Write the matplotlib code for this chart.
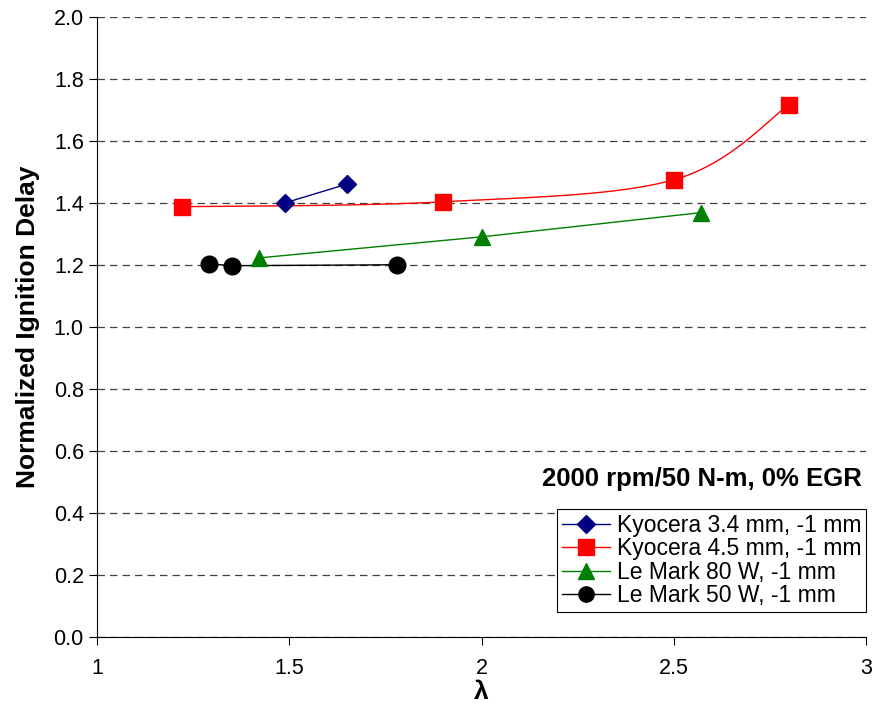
import numpy as np
import matplotlib
matplotlib.use("Agg")
import matplotlib.pyplot as plt

plt.rcParams['font.family'] = ['Liberation Sans', 'DejaVu Sans']

# Data
k34_x = [1.49, 1.65]
k34_y = [1.40, 1.46]
k45_x = [1.22, 1.90, 2.50, 2.80]
k45_y = [1.387, 1.403, 1.474, 1.716]
lm80_x = [1.42, 2.00, 2.57]
lm80_y = [1.222, 1.290, 1.368]
lm50_x = [1.29, 1.35, 1.78]
lm50_y = [1.203, 1.197, 1.200]

labels = ["Kyocera 3.4 mm, -1 mm", "Kyocera 4.5 mm, -1 mm",
          "Le Mark 80 W, -1 mm", "Le Mark 50 W, -1 mm"]


def smooth(x, y, n=40):
    """Excel-style smoothed line: cubic Bezier with Catmull-Rom control points."""
    x = np.asarray(x, float); y = np.asarray(y, float)
    px, py = [], []
    m = len(x)
    for i in range(m - 1):
        x0, y0 = (x[i - 1], y[i - 1]) if i > 0 else (x[i], y[i])
        x3, y3 = (x[i + 2], y[i + 2]) if i + 2 < m else (x[i + 1], y[i + 1])
        c1x = x[i] + (x[i + 1] - x0) / 6
        c1y = y[i] + (y[i + 1] - y0) / 6
        c2x = x[i + 1] - (x3 - x[i]) / 6
        c2y = y[i + 1] - (y3 - y[i]) / 6
        t = np.linspace(0, 1, n)
        bx = (1-t)**3*x[i] + 3*(1-t)**2*t*c1x + 3*(1-t)*t**2*c2x + t**3*x[i+1]
        by = (1-t)**3*y[i] + 3*(1-t)**2*t*c1y + 3*(1-t)*t**2*c2y + t**3*y[i+1]
        px.extend(bx); py.extend(by)
    return np.array(px), np.array(py)


fig = plt.figure(figsize=(8.74, 7.23), dpi=100)
ax = fig.add_axes([0.111, 0.119, 0.880, 0.858])

ax.plot(k34_x, k34_y, color='#000080', lw=1.0, zorder=3)
ax.plot(k34_x, k34_y, ls='none', marker='D', ms=9, color='#000080', zorder=4)

sx, sy = smooth(k45_x, k45_y)
ax.plot(sx, sy, color='red', lw=1.0, zorder=3)
ax.plot(k45_x, k45_y, ls='none', marker='s', ms=12, color='red', zorder=4)

ax.plot(lm80_x, lm80_y, color='green', lw=1.0, zorder=3)
ax.plot(lm80_x, lm80_y, ls='none', marker='^', ms=12, color='green', zorder=4)

ax.plot(lm50_x, lm50_y, color='black', lw=1.0, zorder=3)
ax.plot(lm50_x, lm50_y, ls='none', marker='o', ms=12, color='black', zorder=4)

# legend handles
from matplotlib.lines import Line2D
handles = [
    Line2D([], [], color='#000080', marker='D', ms=9, lw=1.0),
    Line2D([], [], color='red', marker='s', ms=11, lw=1.0),
    Line2D([], [], color='green', marker='^', ms=11, lw=1.0),
    Line2D([], [], color='black', marker='o', ms=11, lw=1.0),
]
leg = ax.legend(handles, labels, loc='lower right', bbox_to_anchor=(1.0, 0.04),
                fontsize=16.5, frameon=True, fancybox=False, framealpha=1,
                edgecolor='black', handlelength=2.1, handletextpad=0.3,
                labelspacing=0.02, borderpad=0.22, borderaxespad=0.0)
leg.get_frame().set_linewidth(0.8)

ax.set_xlim(1, 3)
ax.set_ylim(0, 2.0)
ax.set_xticks([1, 1.5, 2, 2.5, 3])
ax.set_xticklabels(['1', '1.5', '2', '2.5', '3'])
ax.set_yticks(np.arange(0, 2.01, 0.2))
ax.set_yticklabels([f'{v:.1f}' for v in np.arange(0, 2.01, 0.2)])
ax.tick_params(labelsize=15.5, direction='out', length=6, width=0.8)
ax.tick_params(axis='x', pad=9)

ax.yaxis.grid(True, ls=(0, (6, 4)), color='#404040', lw=0.9)
ax.set_axisbelow(True)
for s in ['top', 'right']:
    ax.spines[s].set_visible(False)
for s in ['left', 'bottom']:
    ax.spines[s].set_linewidth(0.8)

ax.set_ylabel('Normalized Ignition Delay', fontsize=19, fontweight='bold', labelpad=10)
ax.set_xlabel('λ', fontsize=19, fontweight='bold', labelpad=1)
ax.text(0.995, 0.255, '2000 rpm/50 N-m, 0% EGR', transform=ax.transAxes,
        ha='right', va='center', fontsize=18.5, fontweight='bold')

fig.savefig('out.png', dpi=100)
